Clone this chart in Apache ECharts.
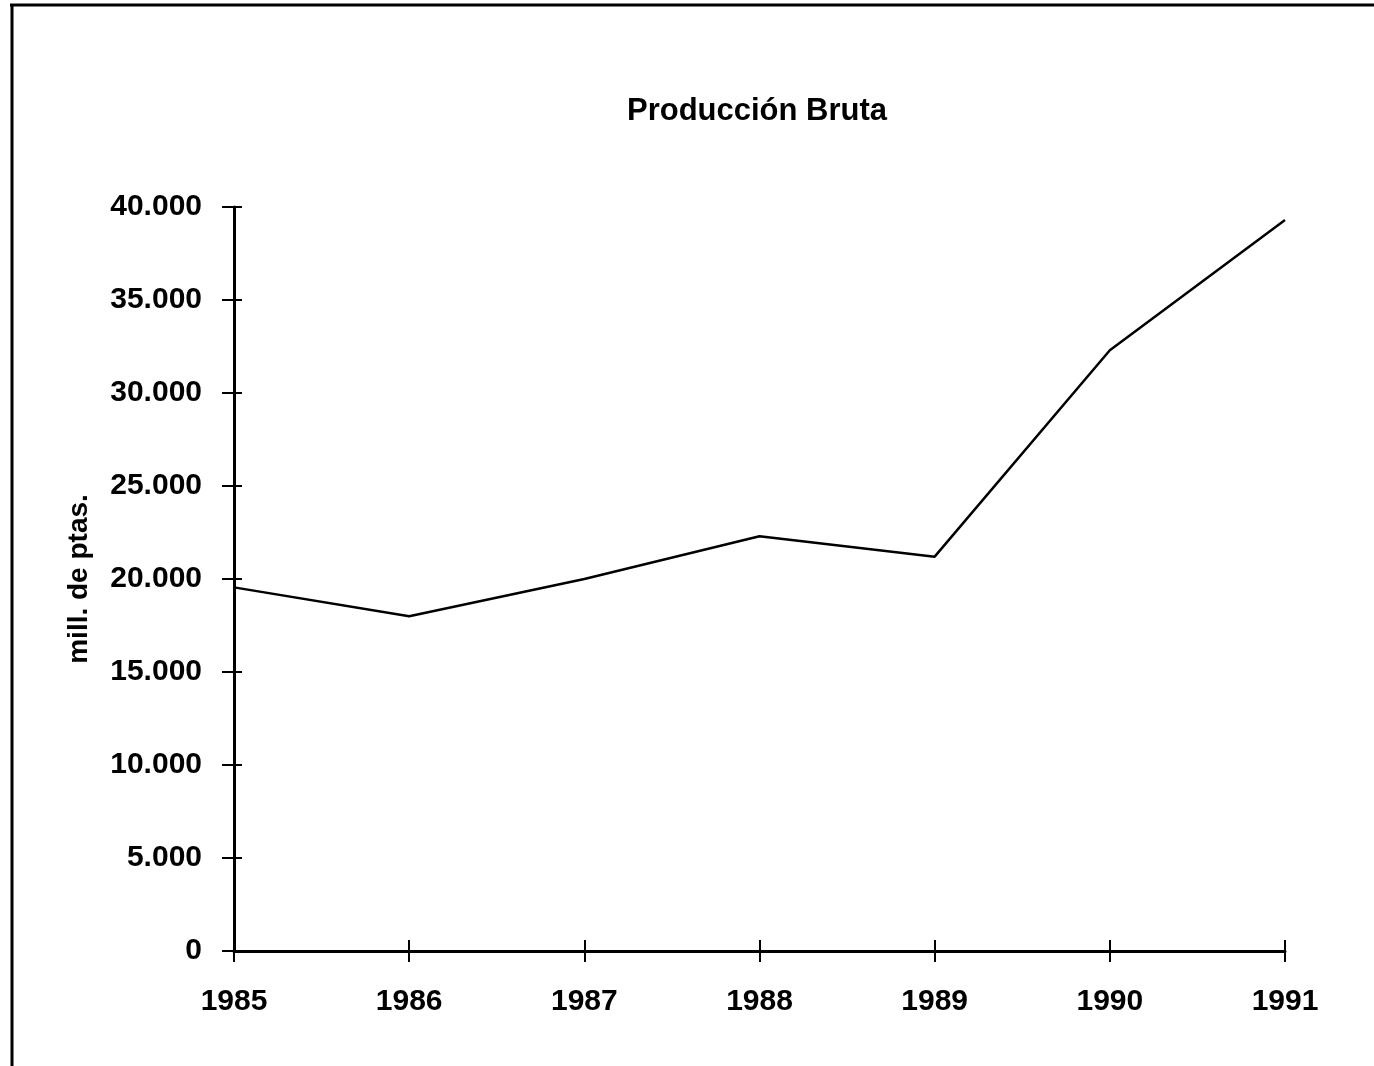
<!DOCTYPE html>
<html>
<head>
<meta charset="utf-8">
<script src="https://cdn.jsdelivr.net/npm/echarts@6/dist/echarts.min.js"></script>
<style>
html,body{margin:0;padding:0;background:#fff;}
#chart{width:1374px;height:1066px;}
</style>
</head>
<body>
<div id="chart"></div>
<script>
const titleText = 'Producción Bruta';
const yAxisName = 'mill. de ptas.';
const years = ['1985', '1986', '1987', '1988', '1989', '1990', '1991'];
const produccionBruta = [19550, 18000, 20000, 22300, 21200, 32300, 39300];
const yTicks = [0, 5000, 10000, 15000, 20000, 25000, 30000, 35000, 40000];

const FONT = '"Liberation Sans", Arial, Helvetica, sans-serif';
const fmt = v => v === 0 ? '0' : String(v).replace(/\B(?=(\d{3})+(?!\d))/g, '.');

const chart = echarts.init(document.getElementById('chart'), null, {renderer: 'canvas'});
chart.setOption({
  backgroundColor: '#ffffff',
  animation: false,
  title: {
    text: titleText,
    left: 752,
    textAlign: 'center',
    top: 91,
    textStyle: {fontFamily: FONT, fontWeight: 'bold', fontSize: 31, color: '#000'}
  },
  grid: {left: 234, right: 89, top: 207, bottom: 115, containLabel: false},
  xAxis: [{
    type: 'category',
    data: years,
    boundaryGap: false,
    position: 'bottom',
    axisLine: {show: true, onZero: false, lineStyle: {color: '#000', width: 3}},
    axisTick: {show: true, inside: false, length: 11, alignWithLabel: true, lineStyle: {color: '#000', width: 2}},
    axisLabel: {show: true, margin: 36, color: '#000', fontFamily: FONT, fontWeight: 'bold', fontSize: 30},
    splitLine: {show: false}
  }, {
    type: 'category',
    data: years,
    boundaryGap: false,
    position: 'bottom',
    axisLine: {show: false, onZero: false},
    axisTick: {show: true, inside: true, length: 11, lineStyle: {color: '#000', width: 2}},
    axisLabel: {show: false},
    splitLine: {show: false}
  }],
  yAxis: [{
    type: 'value',
    min: yTicks[0],
    max: yTicks[yTicks.length - 1],
    interval: yTicks[1] - yTicks[0],
    position: 'left',
    name: yAxisName,
    nameLocation: 'middle',
    nameGap: 141,
    nameTextStyle: {fontFamily: FONT, fontWeight: 'bold', fontSize: 28, color: '#000'},
    axisLine: {show: true, lineStyle: {color: '#000', width: 3}},
    axisTick: {show: true, inside: false, length: 12, lineStyle: {color: '#000', width: 2}},
    axisLabel: {show: true, margin: 32, color: '#000', fontFamily: FONT, fontWeight: 'bold', fontSize: 30, formatter: fmt},
    splitLine: {show: false}
  }, {
    type: 'value',
    min: yTicks[0],
    max: yTicks[yTicks.length - 1],
    interval: yTicks[1] - yTicks[0],
    position: 'left',
    axisLine: {show: false},
    axisTick: {show: true, inside: true, length: 8, lineStyle: {color: '#000', width: 2}},
    axisLabel: {show: false},
    splitLine: {show: false}
  }],
  series: [{
    type: 'line',
    data: produccionBruta,
    xAxisIndex: 0,
    yAxisIndex: 0,
    symbol: 'none',
    lineStyle: {color: '#000', width: 2.5},
    z: 5
  }],
  graphic: [
    {type: 'line', shape: {x1: 10, y1: 5, x2: 1374, y2: 5}, style: {stroke: '#000', lineWidth: 3}},
    {type: 'line', shape: {x1: 12, y1: 5, x2: 12, y2: 1066}, style: {stroke: '#000', lineWidth: 3}}
  ]
});
</script>
</body>
</html>
